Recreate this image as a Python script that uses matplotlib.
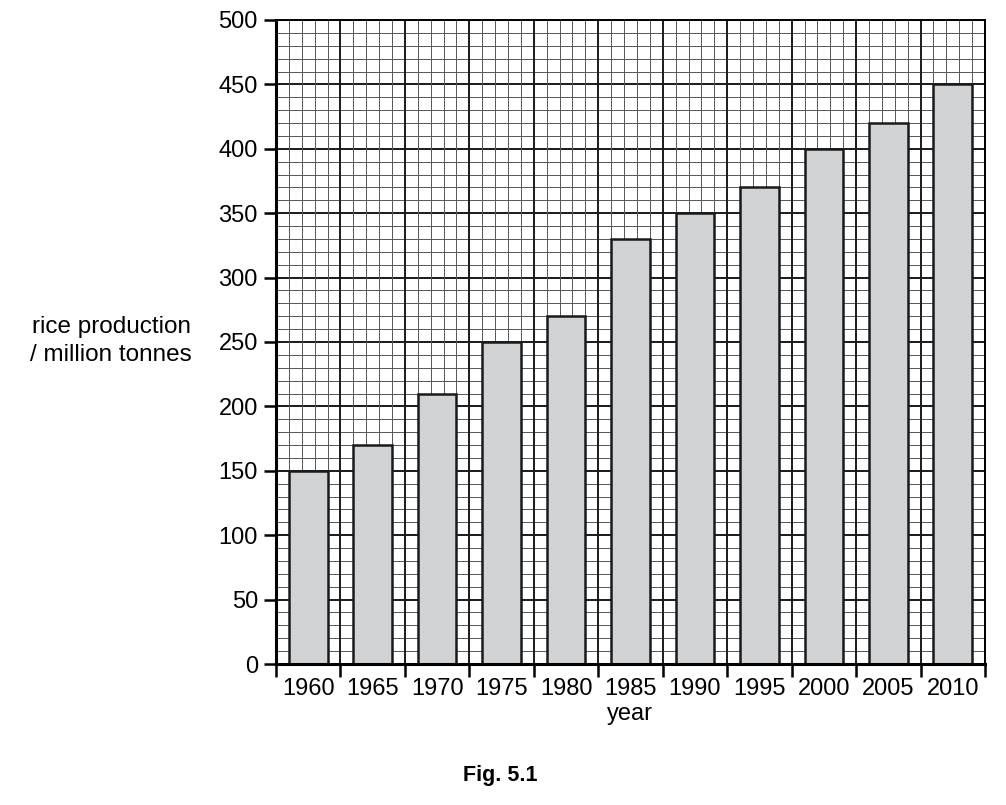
import matplotlib.pyplot as plt
import numpy as np

plt.rcParams["font.family"] = ["Liberation Sans", "DejaVu Sans"]

years = ["1960", "1965", "1970", "1975", "1980", "1985",
         "1990", "1995", "2000", "2005", "2010"]
production = [150, 170, 210, 250, 270, 330, 350, 370, 400, 420, 450]

fig = plt.figure(figsize=(10.06, 8.05), dpi=100)
ax = fig.add_axes([276 / 1006, 1 - 664 / 805, (985 - 276) / 1006, (664 - 20) / 805])

n = len(years)
x = np.arange(n)
xlo, xhi = -0.5, n - 0.5

# graph-paper grid: fine every 10 units / 0.2 category, heavy every 50 / category
for v in np.arange(0, 501, 10):
    major = v % 50 == 0
    ax.axhline(v, color="#1a1a1a" if major else "#555555",
               lw=1.4 if major else 0.7, zorder=1)
for v in np.arange(0, n * 5 + 1):
    xv = xlo + v * 0.2
    major = v % 5 == 0
    ax.axvline(xv, color="#1a1a1a" if major else "#555555",
               lw=1.4 if major else 0.7, zorder=1)

ax.bar(x, production, width=0.6, color="#d1d2d4", edgecolor="#1a1a1a",
       linewidth=1.8, zorder=3)

ax.set_xlim(xlo, xhi)
ax.set_ylim(0, 500)
ax.set_yticks(np.arange(0, 501, 50))
ax.set_xticks(np.arange(xlo, xhi + 0.01, 1.0))
ax.set_xticklabels([])
ax.set_xticks(x, minor=True)
ax.set_xticklabels(years, minor=True)
ax.tick_params(axis="x", which="major", length=9, width=1.8, direction="out")
ax.tick_params(axis="x", which="minor", length=0, pad=10, labelsize=17)
ax.tick_params(axis="y", length=9, width=1.8, direction="out", labelsize=17, pad=4)

for side in ["left", "bottom"]:
    ax.spines[side].set_linewidth(2.2)
    ax.spines[side].set_zorder(4)
for side in ["top", "right"]:
    ax.spines[side].set_linewidth(1.4)

fig.text(111 / 1006, 1 - 341 / 805, "rice production\n/ million tonnes",
         ha="center", va="center", fontsize=17.5, linespacing=1.35)
fig.text(630 / 1006, 1 - 714 / 805, "year", ha="center", va="center", fontsize=17)
fig.text(500 / 1006, 1 - 775 / 805, "Fig. 5.1", ha="center", va="center",
         fontsize=15.5, fontweight="bold")

fig.savefig("out.png", dpi=100)
